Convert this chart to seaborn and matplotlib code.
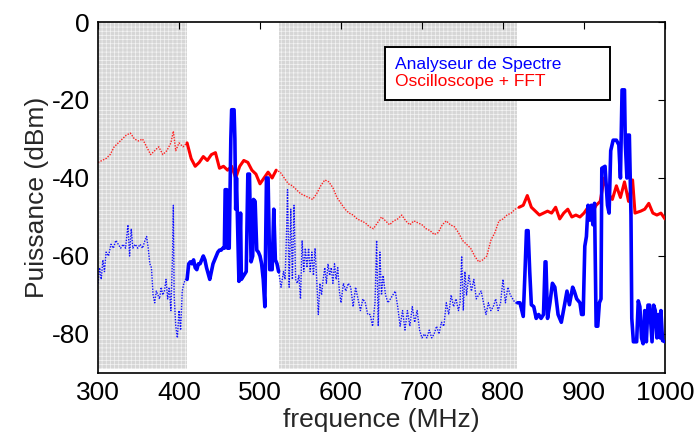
import numpy as np
import pandas as pd
import matplotlib
matplotlib.use("Agg")
import matplotlib.pyplot as plt
from matplotlib.lines import Line2D
import seaborn as sns

# shaded frequency bands (MHz)
shade_bands = [(300, 410), (523, 817)]

# Analyseur de Spectre (blue)
blue_freq = [300, 302, 304, 306, 308, 310, 313, 316, 319, 322, 325, 328, 331, 334, 337, 339, 341, 343,
             346, 349, 352, 355, 358, 360, 362, 364, 366, 368, 370, 372, 374, 376, 378, 380, 382, 384,
             386, 388, 390, 392, 393, 394, 396, 398, 400, 402, 404, 406, 408, 410,
             412, 414, 416, 418, 420, 422, 424, 426, 428, 430, 432, 434, 436, 438, 440, 442, 444, 446,
             448, 450, 452, 454, 456, 457, 459, 460, 462, 464, 465, 468, 469, 470, 471, 473, 474, 476,
             477, 480, 483, 485, 487, 489, 491, 492, 494, 496, 498, 500, 502, 504, 506, 508, 510, 512,
             515, 517, 519, 521,
             523, 526, 529, 531, 533, 534, 536, 538, 540, 542, 544, 546, 548, 550, 552, 554, 556, 558,
             560, 562, 564, 566, 568, 570, 572, 574, 576, 578, 580, 582, 584, 586, 588, 590, 592, 594,
             596, 598, 600, 603, 606, 609, 612, 615, 618, 621, 624, 627, 630, 633, 636, 639, 642, 644,
             646, 648, 650, 652, 655, 658, 661, 664, 667, 670, 673, 676, 679, 682, 685, 688, 691, 694,
             697, 700, 703, 706, 709, 712, 715, 718, 721, 724, 727, 730, 733, 736, 739, 742, 745, 747,
             749, 751, 753, 755, 758, 761, 764, 767, 770, 773, 776, 779, 782, 785, 788, 791, 794, 797,
             800, 803, 806, 809, 812, 815, 818,
             821, 825, 827, 829, 831, 833, 835, 838, 841, 844, 847, 850, 852, 853, 855, 858, 861, 864,
             868, 872, 876, 879, 882, 886, 888, 891, 895, 897, 899, 901, 903, 905, 907, 909, 911, 913,
             915, 917, 919, 921, 922, 926, 927, 929, 931, 933, 936, 940, 943, 945, 947, 950, 951, 953,
             954, 956, 958, 959, 961, 965, 967, 969, 971, 973, 975, 977, 979, 981, 984, 986, 988, 990,
             992, 994, 995, 997, 1000]
blue_dbm = [-67, -63, -66, -61, -64, -59, -60, -57, -58, -56, -57, -58, -57, -58, -52, -60, -53, -58,
            -57, -58, -57, -58, -56, -55, -58, -62, -63, -70, -72, -69, -70, -71, -68, -70, -69, -66,
            -71, -68, -74, -60, -47, -70, -78, -81, -74, -79, -69, -67, -66, -66,
            -62, -61.5, -62, -61, -63, -63.5, -62, -62, -61, -60, -61, -63, -64.5, -66, -64, -62, -61, -60,
            -59, -58.5, -58.5, -58, -58, -43, -43, -58, -58, -30, -22.5, -22.5, -30, -48, -40, -58, -66.5, -49,
            -66, -65, -64, -39, -39, -61.5, -60, -45.5, -46, -58.5, -59, -60, -62, -66, -73, -40, -40, -63.5,
            -63.5, -48, -61, -62,
            -64, -68, -64, -66, -52, -43, -68, -48, -66, -47, -66, -67, -65, -71, -56, -64, -58, -63,
            -58, -64, -59, -65, -58, -66, -75, -67, -70, -66, -63, -67, -62, -65, -63, -67, -62, -66,
            -63, -69, -72, -67, -69, -67, -68, -73, -68, -71, -74, -71, -72, -75, -75, -78, -72, -56,
            -78, -59, -70, -65, -70, -72, -71, -70, -69, -73, -78, -74, -79, -74, -78, -73, -77, -74,
            -79, -81, -80, -81, -79, -81, -80, -78, -80, -77, -78, -72, -75, -70, -73, -71, -74, -72,
            -60, -74, -64, -70, -65, -69, -66, -71, -70, -69, -72, -75, -72, -74, -73, -71, -74, -72,
            -66, -72, -68, -70, -71, -72, -72,
            -72, -75.5, -65, -53.5, -53.5, -64, -72.5, -73, -76, -75, -76, -75, -61.5, -61.5, -76, -72, -67, -68,
            -75, -77, -72.5, -69, -72.5, -68, -69, -71, -72, -75, -75, -57.5, -55, -47, -50.8, -47, -52, -46.5,
            -78, -78, -72, -71, -37.5, -37, -40.5, -47, -49, -33, -30.3, -30.3, -31.5, -40, -17.4, -17.4, -31, -40,
            -29, -29, -49.5, -76, -82, -82, -71.5, -73, -81, -82.5, -74, -82, -72.6, -72.6, -82, -72.6, -74, -81,
            -75, -81, -74, -81.7, -82]

# Oscilloscope + FFT (red)
red_freq = [300, 305, 310, 315, 320, 325, 330, 335, 340, 345, 350, 355, 360, 365, 370, 375, 380, 385,
            390, 393, 396, 400, 405, 410, 415, 420, 425, 430, 435, 440, 445, 450, 455, 460, 465, 470,
            475, 480, 485, 490, 495, 500, 505, 510, 515, 520, 525, 530, 535, 540, 545, 550, 555, 560,
            565, 570, 575, 580, 585, 590, 595, 600, 605, 610, 615, 620, 625, 630, 635, 640, 645, 650,
            655, 660, 665, 670, 675, 680, 685, 690, 695, 700, 705, 710, 715, 720, 725, 730, 735, 740,
            745, 750, 755, 760, 765, 770, 775, 780, 785, 790, 795, 800, 805, 810, 815, 820, 825, 830,
            835, 840, 845, 850, 855, 860, 865, 870, 875, 880, 885, 890, 895, 900, 905, 910, 915, 920,
            925, 930, 935, 940, 945, 950, 955, 960, 963, 970, 975, 980, 985, 990, 995, 1000]
red_dbm = [-36, -35.5, -35, -34, -32, -31, -30, -29, -28.5, -30, -30.5, -30, -32, -34, -33, -32, -34, -33,
           -31, -28, -33, -31, -32, -31, -35, -37, -36, -34.5, -35.5, -34, -33.5, -37.5, -37, -38, -37, -40,
           -37, -35.5, -36, -38, -39, -41.5, -40, -38.5, -40, -38, -38.5, -40, -41.5, -42, -43, -44, -44.5, -45,
           -45.5, -44, -42, -40.5, -41, -42.5, -45, -46.5, -48, -49, -49.5, -50.5, -51, -51.5, -52.5, -53, -51.5, -50,
           -51, -52, -51, -50.5, -49.5, -51, -52, -51, -51.5, -52, -53, -53.5, -54.5, -54, -52, -51, -52, -52.5,
           -54, -56, -57, -58, -60, -61.5, -61, -60, -56, -54, -51, -50.5, -49.5, -49, -48, -47.5, -47, -44.5,
           -47.5, -48.5, -49.5, -49, -48.5, -49, -47.5, -50.5, -49, -48, -50, -49.5, -50, -49, -47.5, -49, -47, -46,
           -40, -44, -45.5, -42, -45, -41, -46, -40.5, -49, -48.5, -48, -46.5, -49, -49.5, -49, -50.5]


def solid_segments(freq, dbm):
    # runs of points that lie outside the shaded bands
    f = np.array(freq, dtype=float)
    v = np.array(dbm, dtype=float)
    inside = np.zeros(len(f), dtype=bool)
    for lo, hi in shade_bands:
        inside |= (f > lo) & (f < hi)
    seg = np.cumsum(inside)
    df = pd.DataFrame({"freq": f, "dbm": v, "seg": seg})
    return df[~inside]


sns.set_theme(style="white")
plt.rcParams["font.family"] = ["Liberation Sans", "DejaVu Sans"]
plt.rcParams["axes.unicode_minus"] = False
plt.rcParams["hatch.linewidth"] = 0.5

fig = plt.figure(figsize=(6.94, 4.40), dpi=100)
ax = fig.add_axes([0.1412, 0.1523, 0.8170, 0.7977])

for lo, hi in shade_bands:
    ax.axvspan(lo, hi, ymin=0.012, ymax=1, facecolor="#d6d6d6", edgecolor="#f4f4f4",
               hatch="++++", lw=0, zorder=0)

blue_df = pd.DataFrame({"freq": blue_freq, "dbm": blue_dbm})
red_df = pd.DataFrame({"freq": red_freq, "dbm": red_dbm})

# thin dotted trace everywhere (visible inside the shaded bands)
sns.lineplot(data=red_df, x="freq", y="dbm", color="#ff2020", lw=1.0,
             linestyle=(0, (1, 1)), sort=False, estimator=None, ax=ax, zorder=2)
sns.lineplot(data=blue_df, x="freq", y="dbm", color="#1010ff", lw=1.0,
             linestyle=(0, (1, 1)), sort=False, estimator=None, ax=ax, zorder=2)

# thick solid trace outside the bands
sns.lineplot(data=solid_segments(red_freq, red_dbm), x="freq", y="dbm", units="seg",
             estimator=None, sort=False, color="#ff0000", lw=2.2, ax=ax, zorder=3)
sns.lineplot(data=solid_segments(blue_freq, blue_dbm), x="freq", y="dbm", units="seg",
             estimator=None, sort=False, color="#0000ff", lw=2.6, ax=ax, zorder=4)

ax.set_xlim(300, 1000)
ax.set_ylim(-90, 0)
ax.set_xticks(range(300, 1001, 100))
ax.set_yticks([-80, -60, -40, -20, 0])
ax.set_xlabel("frequence (MHz)", fontsize=19, labelpad=2)
ax.set_ylabel("Puissance (dBm)", fontsize=19, labelpad=2)
ax.tick_params(direction="in", length=5, width=0.8, top=True, right=True,
               labelsize=19, colors="black", pad=6)
for s in ax.spines.values():
    s.set_color("black")
    s.set_linewidth(1.2)

handles = [Line2D([], [], color="#0000ff", lw=0), Line2D([], [], color="#ff0000", lw=0)]
leg = ax.legend(handles, ["Analyseur de Spectre", "Oscilloscope + FFT"],
                loc="upper left", bbox_to_anchor=(0.506, 0.778, 0.397, 0.151),
                mode="expand", borderaxespad=0,
                handlelength=0, handletextpad=0, labelcolor=["#0000ff", "#ff0000"],
                fontsize=12.5, frameon=True, fancybox=False, borderpad=0.6,
                labelspacing=0.1)
leg.get_frame().set_edgecolor("black")
leg.get_frame().set_linewidth(1.4)
leg.get_frame().set_alpha(1)
leg.set_zorder(10)

fig.savefig("out.png", dpi=100)
